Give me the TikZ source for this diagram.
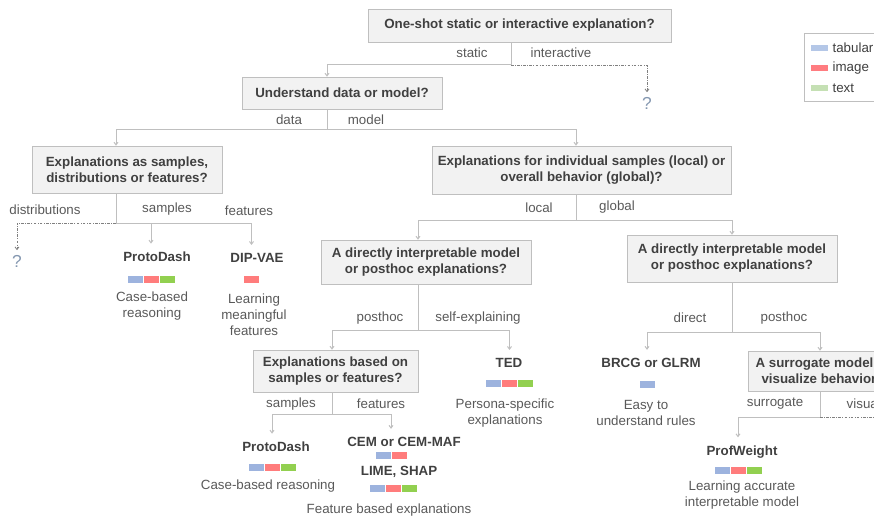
\documentclass[tikz,border=0pt]{standalone}
\usepackage{fontspec}
\setmainfont{Liberation Sans}
\usetikzlibrary{arrows.meta}

\definecolor{cBox}{HTML}{F2F2F2}
\definecolor{cLine}{HTML}{BFBFBF}
\definecolor{cDash}{HTML}{808080}
\definecolor{cTxt}{HTML}{404040}
\definecolor{cLab}{HTML}{595959}
\definecolor{cQ}{HTML}{8497B0}
\definecolor{cTab}{HTML}{9DB3DE}
\definecolor{cImg}{HTML}{FF7C7C}
\definecolor{cTxtd}{HTML}{92D050}
\definecolor{cTabL}{HTML}{B4C7E7}
\definecolor{cImgL}{HTML}{FF7C80}
\definecolor{cTxtL}{HTML}{C5E0B4}

% data type bars
\newcommand{\btab}{\textcolor{cTab}{\rule{11.25pt}{5.25pt}}\hspace{0.75pt}}
\newcommand{\bimg}{\textcolor{cImg}{\rule{11.25pt}{5.25pt}}\hspace{0.75pt}}
\newcommand{\btxt}{\textcolor{cTxtd}{\rule{11.25pt}{5.25pt}}}

\begin{document}
\begin{tikzpicture}[x=0.75pt,y=-0.75pt,
    qbox/.style={draw=cLine, fill=cBox, text=cTxt, font=\bfseries, align=center, inner sep=2pt},
    meth/.style={text=cTxt, font=\bfseries, outer ysep=3pt},
    note/.style={text=cLab, align=center},
    lab/.style={text=cLab},
    bars/.style={inner sep=0pt},
    qm/.style={text=cQ, font=\fontsize{13}{14}\selectfont},
    link/.style={draw=cLine, line width=0.75pt},
    arr/.style={link, -{Straight Barb[length=2pt,width=3pt]}},
    unk/.style={draw=cDash, line width=0.6pt, dash pattern=on 2pt off 1pt on 0.6pt off 1pt}]
    \useasboundingbox (0,0) rectangle (874,517);
    \clip (0,0) rectangle (874,517);

    % questions
    \node[qbox, minimum width=227.25pt, minimum height=24.75pt] (q1) at (519.5,25.5) {One-shot static or interactive explanation?};
    \node[qbox, minimum width=150pt, minimum height=24pt] (q2) at (342,93) {Understand data or model?};
    \node[qbox, minimum width=142.5pt, minimum height=35.25pt] (q3) at (127,169.5) {Explanations as samples,\\distributions or features?};
    \node[qbox, minimum width=224.25pt, minimum height=36pt] (q4) at (581.5,170) {Explanations for individual samples (local) or\\overall behavior (global)?};
    \node[qbox, minimum width=157.5pt, minimum height=33pt] (q5) at (426,262) {A directly interpretable model\\or posthoc explanations?};
    \node[qbox, minimum width=157.5pt, minimum height=35.25pt] (q6) at (732,258.5) {A directly interpretable model\\or posthoc explanations?};
    \node[qbox, minimum width=123.75pt, minimum height=31.5pt] (q7) at (335.5,371) {Explanations based on\\samples or features?};
    \node[qbox, minimum width=112.5pt, minimum height=30pt] (q8) at (823,371) {A surrogate model or\\visualize behavior?};

    % branch labels
    \node[lab] (t1a) at (472,53) {static};
    \node[lab] (t1b) at (561,53) {interactive};
    \node[lab] (t2a) at (289,120) {data};
    \node[lab] (t2b) at (366,120) {model};
    \node[lab] (t3a) at (45,210) {distributions};
    \node[lab] (t3b) at (167,209) {samples};
    \node[lab] (t3c) at (249,211) {features};
    \node[lab] (t4a) at (539,208) {local};
    \node[lab] (t4b) at (617,207) {global};
    \node[lab] (t5a) at (380,318) {posthoc};
    \node[lab] (t5b) at (478,318) {self-explaining};
    \node[lab] (t6a) at (690,318) {direct};
    \node[lab] (t6b) at (784,318) {posthoc};
    \node[lab] (t7a) at (291,404) {samples};
    \node[lab] (t7b) at (381,404) {features};
    \node[lab] (t8a) at (775,404) {surrogate};
    \node[lab, anchor=west] (t8b) at (842,404) {visualize};

    % unknown
    \node[qm] (qm1) at (647,103) {?};
    \node[qm] (qm2) at (17,261) {?};

    % methods
    \node[meth] (l1) at (157,257) {ProtoDash};
    \node[bars] (l1b) at (151,279) {\btab\bimg\btxt};
    \node[note] (l1d) at (152,306) {Case-based\\reasoning};
    \node[meth] (l2) at (257,258) {DIP-VAE};
    \node[bars] (l2b) at (251.5,279) {\textcolor{cImg}{\rule{11.25pt}{5.25pt}}};
    \node[note] (l2d) at (254,315) {Learning\\meaningful\\features};
    \node[meth] (l3) at (509,363) {TED};
    \node[bars] (l3b) at (509.5,383) {\btab\bimg\btxt};
    \node[note] (l3d) at (505,413) {Persona-specific\\explanations};
    \node[meth] (l4) at (651,363) {BRCG or GLRM};
    \node[bars] (l4b) at (647,384) {\textcolor{cTab}{\rule{11.25pt}{5.25pt}}};
    \node[note] (l4d) at (646,413) {Easy to\\understand rules};
    \node[meth] (l5) at (276,447) {ProtoDash};
    \node[bars] (l5b) at (272,467) {\btab\bimg\btxt};
    \node[note] (l5d) at (268,486) {Case-based reasoning};
    \node[meth] (l6) at (404,442) {CEM or CEM-MAF};
    \node[bars] (l6b) at (391,455) {\btab\textcolor{cImg}{\rule{11.25pt}{5.25pt}}};
    \node[meth] (l7) at (399,472) {LIME, SHAP};
    \node[bars] (l7b) at (393,488) {\btab\bimg\btxt};
    \node[note] (l7d) at (389,510) {Feature based explanations};
    \node[meth] (l8) at (742,452) {ProfWeight};
    \node[bars] (l8b) at (738,470) {\btab\bimg\btxt};
    \node[note] (l8d) at (742,495) {Learning accurate\\interpretable model};

    % legend
    \node[draw=cLine, fill=white, minimum width=72pt, minimum height=51pt] (leg) at (852,67) {};
    \node[inner sep=0pt] (s1) at (819.5,48) {\textcolor{cTabL}{\rule{12.75pt}{4.5pt}}};
    \node[inner sep=0pt] (s2) at (819.5,68) {\textcolor{cImgL}{\rule{12.75pt}{4.5pt}}};
    \node[inner sep=0pt] (s3) at (819.5,88) {\textcolor{cTxtL}{\rule{12.75pt}{4.5pt}}};
    \node[text=cTxt, anchor=west, inner sep=1pt] (g1) at (831,48) {tabular};
    \node[text=cTxt, anchor=west, inner sep=1pt] (g2) at (831,68) {image};
    \node[text=cTxt, anchor=west, inner sep=1pt] (g3) at (831,88) {text};

    % branch points
    \coordinate (b1) at (511,65);
    \coordinate (b2) at (327,129);
    \coordinate (b3) at (116,223);
    \coordinate (b4) at (576,220);
    \coordinate (b5) at (418,330);
    \coordinate (b6) at (732,332);
    \coordinate (b7) at (332,414);
    \coordinate (b8) at (820,417);
    \coordinate (v8) at (890,417);

    % connectors
    \draw[link] (q1.south -| b1) -- (b1);
    \draw[arr] (b1) -| (q2.north -| b2);
    \draw[unk, -{Straight Barb[length=2pt,width=3pt]}] (b1) -| (qm1.north);
    \draw[link] (q2.south -| b2) -- (b2);
    \draw[arr] (b2) -| (q3.north -| b3);
    \draw[arr] (b2) -| (q4.north -| b4);
    \draw[link] (q3.south -| b3) -- (b3);
    \draw[unk, -{Straight Barb[length=2pt,width=3pt]}] (b3) -| (qm2.north);
    \draw[arr] (b3) -| (l1.north -| l1b);
    \draw[arr] (b3) -| (l2.north -| l2b);
    \draw[link] (q4.south -| b4) -- (b4);
    \draw[arr] (b4) -| (q5.north -| b5);
    \draw[arr] (b4) -| (q6.north -| b6);
    \draw[link] (q5.south -| b5) -- (b5);
    \draw[arr] (b5) -| (q7.north -| b7);
    \draw[arr] (b5) -| (l3.north -| l3b);
    \draw[link] (q6.south -| b6) -- (b6);
    \draw[arr] (b6) -| (l4.north -| l4b);
    \draw[arr] (b6) -| (q8.north -| b8);
    \draw[link] (q7.south -| b7) -- (b7);
    \draw[arr] (b7) -| (l5.north -| l5b);
    \draw[arr] (b7) -| (l6.north -| l6b);
    \draw[link] (q8.south -| b8) -- (b8);
    \draw[arr] (b8) -| (l8.north -| l8b);
    \draw[unk] (b8) -- (v8);
\end{tikzpicture}
\end{document}
